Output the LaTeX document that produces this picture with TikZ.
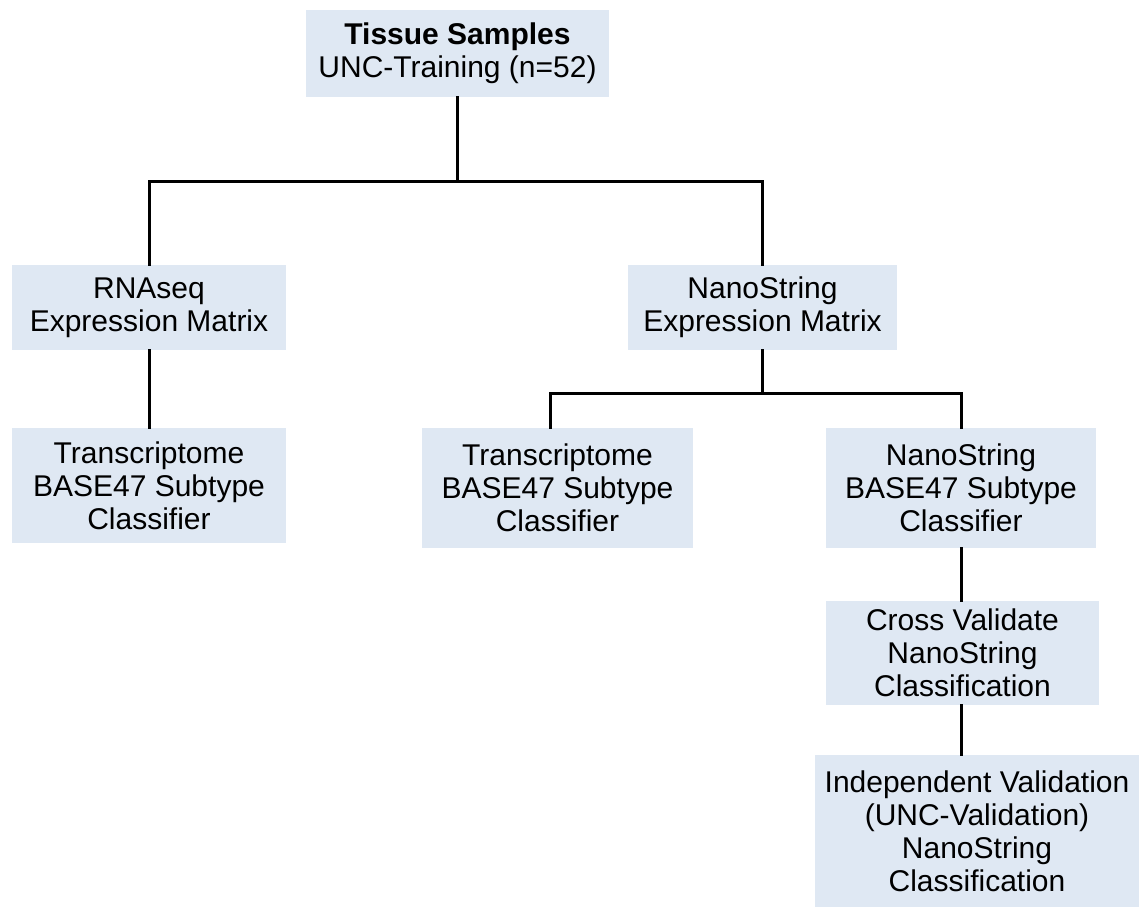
\documentclass[tikz,border=0pt]{standalone}
\usepackage{fontspec}
\setmainfont{Liberation Sans}
\definecolor{boxfill}{RGB}{223,232,243}

\begin{document}
\begin{tikzpicture}[x=0.5pt,y=-0.5pt,line cap=rect,
  every node/.style={inner sep=1pt,align=center,font=\fontsize{15}{16.5}\selectfont},
  box/.style={fill=boxfill,minimum width=137pt},
  link/.style={line width=1.5pt}]
  \useasboundingbox (0,0) rectangle (1139,907);
  % boxes
  \node[box,minimum width=151.5pt,minimum height=43.5pt] (top) at (457.5,53.5) {\textbf{Tissue Samples}\\UNC-Training (n=52)};
  \node[box,minimum height=42.5pt] (rna) at (149,307.5) {RNAseq\\Expression Matrix};
  \node[box,minimum height=57.5pt] (ltrans) at (149,485.5) {Transcriptome\\BASE47 Subtype\\Classifier};
  \node[box,minimum width=134.5pt,minimum height=42.5pt] (nexpr) at (762.5,307.5) {NanoString\\Expression Matrix};
  \node[box,minimum width=135.5pt,minimum height=60pt] (mtrans) at (557.5,488) {Transcriptome\\BASE47 Subtype\\Classifier};
  \node[box,minimum width=135pt,minimum height=60pt] (nbase) at (961,488) {NanoString\\BASE47 Subtype\\Classifier};
  \node[box,minimum width=136.5pt,minimum height=52pt] (cross) at (962.5,653) {Cross Validate\\NanoString\\Classification};
  \node[box,minimum width=162pt,minimum height=76pt] (indep) at (977,831) {Independent Validation\\(UNC-Validation)\\NanoString\\Classification};
  % junctions
  \coordinate (j1) at (457.5,181);
  \coordinate (j2) at (762.5,393);
  % links
  \draw[link] (top.south) -- (j1);
  \draw[link] (rna.north) |- (j1) -| (nexpr.north);
  \draw[link] (rna.south) -- (ltrans.north);
  \draw[link] (nexpr.south) -- (j2);
  \draw[link] ([xshift=-3.5pt]mtrans.north) |- (j2) -| (nbase.north);
  \draw[link] (nbase.south) -- (nbase.south |- cross.north);
  \draw[link] (nbase.south |- cross.south) -- (nbase.south |- indep.north);
\end{tikzpicture}
\end{document}
